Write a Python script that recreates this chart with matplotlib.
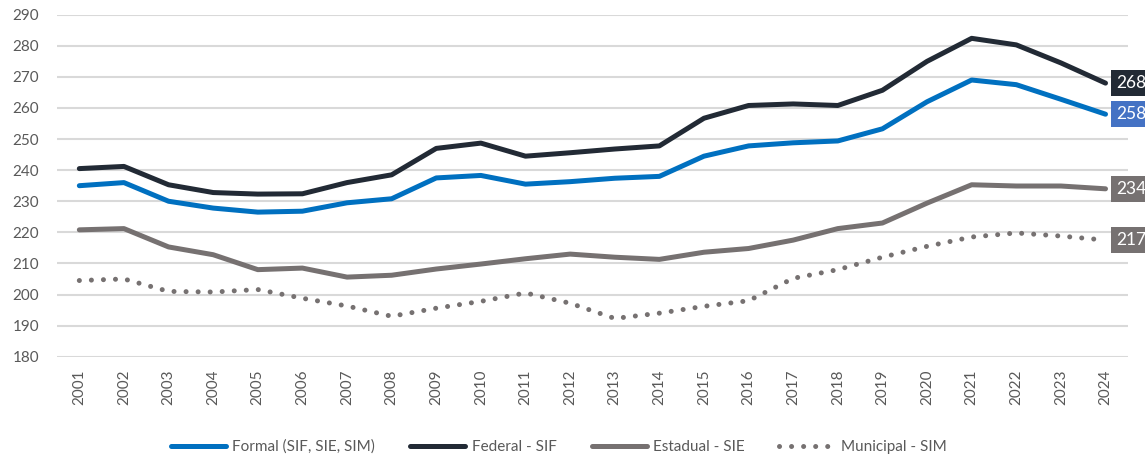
import matplotlib
matplotlib.use("Agg")
import matplotlib.pyplot as plt

plt.rcParams['font.family'] = ['Lato', 'DejaVu Sans']

years = list(range(2001, 2025))
formal = [235.0, 236.0, 230.0, 227.8, 226.5, 226.8, 229.5, 230.8, 237.5, 238.3, 235.5, 236.3,
          237.4, 238.0, 244.5, 247.8, 248.8, 249.4, 253.3, 262.0, 269.0, 267.5, 262.8, 258.0]
federal = [240.5, 241.2, 235.3, 232.8, 232.3, 232.4, 236.0, 238.5, 247.0, 248.7, 244.5, 245.6,
           246.8, 247.8, 256.7, 260.8, 261.3, 260.8, 265.7, 275.0, 282.4, 280.3, 274.5, 268.0]
estadual = [220.8, 221.2, 215.3, 212.8, 208.0, 208.5, 205.6, 206.2, 208.2, 209.8, 211.5, 213.0,
            212.0, 211.3, 213.6, 214.8, 217.5, 221.2, 223.0, 229.4, 235.3, 234.9, 234.9, 234.0]
municipal = [204.5, 205.0, 201.0, 200.8, 201.6, 198.8, 196.3, 193.0, 195.6, 197.8, 200.5, 197.2,
             192.3, 194.0, 196.2, 198.0, 205.2, 208.0, 212.0, 215.5, 218.5, 219.8, 218.8, 217.5]
end_labels = ["268", "258", "234", "217"]

c_formal = "#0070C0"
c_federal = "#222A35"
c_grey = "#767171"

fig = plt.figure(figsize=(11.45, 4.57), dpi=100)
ax = fig.add_axes([0.0498, 0.2195, 0.9352, 0.7483])

lw = 3.6
ax.plot(years, formal, color=c_formal, lw=lw, solid_capstyle="round", solid_joinstyle="round",
        label="Formal (SIF, SIE, SIM)", zorder=3)
ax.plot(years, federal, color=c_federal, lw=lw, solid_capstyle="round", solid_joinstyle="round",
        label="Federal - SIF", zorder=4)
ax.plot(years, estadual, color=c_grey, lw=lw, solid_capstyle="round", solid_joinstyle="round",
        label="Estadual - SIE", zorder=3)
ax.plot(years, municipal, color=c_grey, lw=lw, linestyle=(0, (0.01, 2.4)),
        dash_capstyle="round", label="Municipal - SIM", zorder=3)

# end-of-line value boxes
box_colors = [c_federal, "#4472C4", c_grey, c_grey]
box_vals = [federal[-1], formal[-1], estadual[-1], municipal[-1]]
for txt, val, bc in zip(end_labels, box_vals, box_colors):
    ax.annotate(txt, xy=(years[-1], val), xytext=(11, 0), textcoords="offset pixels",
                ha="left", va="center", color="white", fontsize=12.5, annotation_clip=False,
                bbox=dict(boxstyle="square,pad=0.3", fc=bc, ec="none"), zorder=5)

ax.set_xlim(2000.5, 2024.5)
ax.set_ylim(180, 290)
ax.set_yticks(range(180, 291, 10))
ax.set_xticks(years)
ax.set_xticklabels([str(y) for y in years], rotation=90)
ax.tick_params(axis="both", length=0, labelsize=11, colors="#595959")
ax.tick_params(axis="y", pad=13)
ax.tick_params(axis="x", pad=9)
ax.grid(True, axis="y", color="#D9D9D9", lw=1.5, zorder=0)
ax.set_axisbelow(True)
for s in ax.spines.values():
    s.set_visible(False)

leg = fig.legend(loc="center", bbox_to_anchor=(0.488, 0.022), ncol=4, frameon=False,
                 fontsize=11, handlelength=3.6, handletextpad=0.4, columnspacing=2.3)
for t in leg.get_texts():
    t.set_color("#595959")

fig.savefig("out.png", dpi=100)
